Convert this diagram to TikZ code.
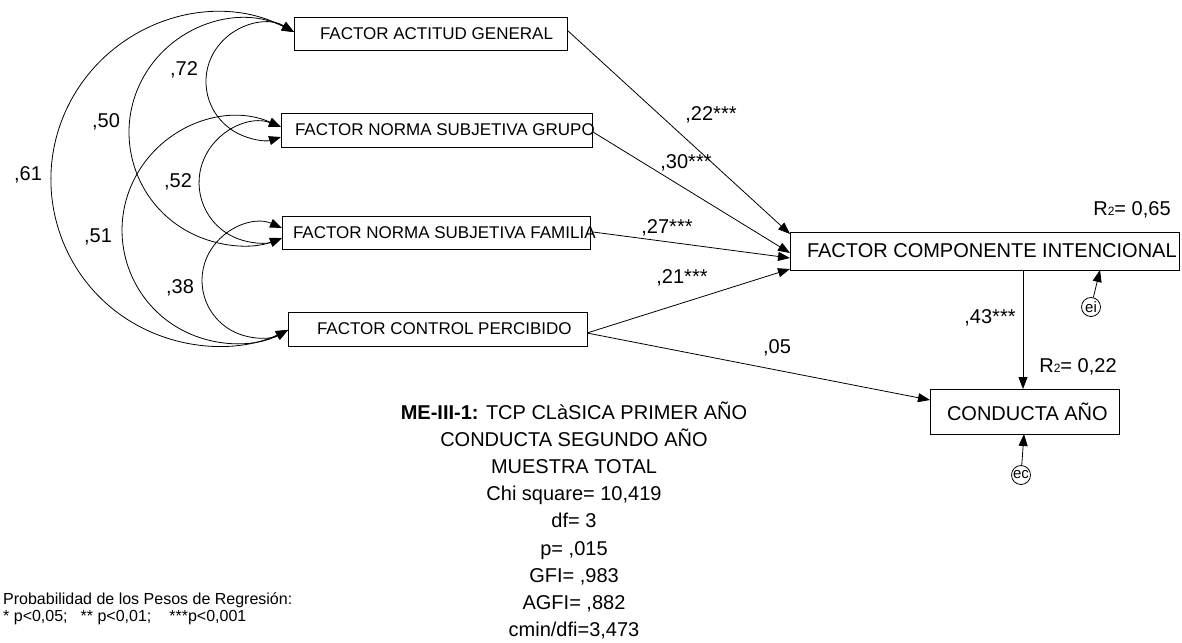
\documentclass[tikz,border=0pt]{standalone}
\usepackage{fontspec}
\setmainfont{Liberation Sans}
\usetikzlibrary{arrows.meta,calc}
\begin{document}
\begin{tikzpicture}[x=1pt,y=1pt,
  >={Triangle[length=12pt,width=9pt]},
  box/.style={draw, line width=0.8pt, inner sep=0pt, outer sep=0pt, font=\fontsize{17}{20}\selectfont},
  bigbox/.style={box, font=\fontsize{20}{24}\selectfont},
  err/.style={draw, circle, line width=0.8pt, inner sep=0pt, minimum size=19pt, font=\fontsize{15}{18}\selectfont},
  reg/.style={->, line width=0.8pt},
  cov/.style={<->, line width=0.8pt},
  coef/.style={inner sep=0pt, font=\fontsize{20}{24}\selectfont},
  leg/.style={inner sep=0pt, anchor=base west, font=\fontsize{16}{18}\selectfont}]
\useasboundingbox (0,0) rectangle (1182,-642);

% boxes
\node[box, minimum width=273pt, minimum height=33pt] (act) at (430.5,-33.5)
  {\makebox[273pt][l]{\hspace*{26pt}FACTOR ACTITUD GENERAL}};
\node[box, minimum width=311pt, minimum height=34pt] (gru) at (436.5,-130)
  {\makebox[311pt][l]{\hspace*{14pt}FACTOR NORMA SUBJETIVA GRUPO}};
\node[box, minimum width=308pt, minimum height=33pt] (fam) at (436,-232.5)
  {\makebox[308pt][l]{\hspace*{11pt}FACTOR NORMA SUBJETIVA FAMILIA}};
\node[box, minimum width=299pt, minimum height=34pt] (con) at (437.5,-329)
  {\makebox[299pt][l]{\hspace*{29pt}FACTOR CONTROL PERCIBIDO}};
\node[bigbox, minimum width=389pt, minimum height=38pt] (comp) at (984.5,-251)
  {\makebox[389pt][l]{\hspace*{17pt}FACTOR COMPONENTE INTENCIONAL}};
\node[bigbox, minimum width=189pt, minimum height=45pt] (cond) at (1024.5,-411.5)
  {\makebox[189pt][l]{\hspace*{17pt}CONDUCTA AÑO}};
\node[err] (ei) at (1091,-307) {ei};
\node[err] (ec) at (1021,-475) {ec};

% covariance end points
\coordinate (A0) at ($(act.west)+(0,1.5)$);
\coordinate (G1) at ($(gru.west)+(0,3)$);
\coordinate (G2) at ($(gru.west)+(0,-7)$);
\coordinate (F1) at ($(fam.west)+(0,4.5)$);
\coordinate (F2) at ($(fam.west)+(0,-5.5)$);
\coordinate (C0) at ($(con.west)+(0,-1)$);

% covariances
\draw[cov] (A0) arc[start angle=58.8, end angle=287.1, radius=58pt];
\draw[cov] (A0) arc[start angle=62.6, end angle=290.7, radius=113pt];
\draw[cov] (A0) arc[start angle=62.5, end angle=295.2, radius=166.3pt];
\draw[cov] (G1) arc[start angle=68.4, end angle=292.7, radius=59.9pt];
\draw[cov] (G1) arc[start angle=66.0, end angle=298.0, radius=113pt];
\draw[cov] (F1) arc[start angle=66.5, end angle=300.2, radius=57.2pt];

% regressions
\draw[reg] ($(act.east)+(0,3.5)$) -- ($(comp.west)+(0,17)$);
\draw[reg] ($(gru.east)+(1,-2)$) -- ($(comp.west)+(0,-2)$);
\draw[reg] ($(fam.east)+(3,0.5)$) -- ($(comp.west)+(0,-7)$);
\draw[reg] ($(con.east)+(0,-4)$) -- ($(comp.south west)+(0,1)$);
\draw[reg] ($(con.east)+(0,-4)$) -- ($(cond.west)+(0,11.5)$);
\draw[reg] ($(comp.south)+(38.5,0)$) -- ($(cond.north)+(-1.5,0)$);
\draw[reg] (ei) -- ($(comp.south)+(115.5,0)$);
\draw[reg] (ec) -- ($(cond.south)+(-0.5,0)$);

% coefficients
\node[coef] (c72) at (184,-70) {,72};
\node[coef] (c50) at (106,-122) {,50};
\node[coef] (c61) at (28,-175) {,61};
\node[coef] (c52) at (178,-182) {,52};
\node[coef] (c51) at (98,-237) {,51};
\node[coef] (c38) at (180,-288) {,38};
\node[coef] (c22) at (711,-115) {,22***};
\node[coef] (c30) at (686,-163) {,30***};
\node[coef] (c27) at (667,-228) {,27***};
\node[coef] (c21) at (682,-278) {,21***};
\node[coef] (c05) at (777,-348) {,05};
\node[coef] (c43) at (990,-318) {,43***};
\node[coef] (r1) at (1132,-210) {R{\fontsize{12}{12}\selectfont 2}= 0,65};
\node[coef] (r2) at (1078,-367) {R{\fontsize{12}{12}\selectfont 2}= 0,22};

% title block
\node[anchor=base, inner sep=0pt, font=\fontsize{20}{27.2}\selectfont] (title) at (574,-419)
  {\begin{tabular}[t]{@{}c@{}}
   \textbf{ME-III-1:} TCP CLàSICA PRIMER AÑO\\
   CONDUCTA SEGUNDO AÑO\\
   MUESTRA TOTAL\\
   Chi square= 10,419\\
   df= 3\\
   p= ,015\\
   GFI= ,983\\
   AGFI= ,882\\
   cmin/dfi=3,473
   \end{tabular}};

% legend
\node[leg] (leg1) at (3,-604) {Probabilidad de los Pesos de Regresión:};
\node[leg] (leg2) at (3,-621) {* p<0,05;\hspace*{13pt}** p<0,01;\hspace*{18pt}***p<0,001};
\end{tikzpicture}
\end{document}
